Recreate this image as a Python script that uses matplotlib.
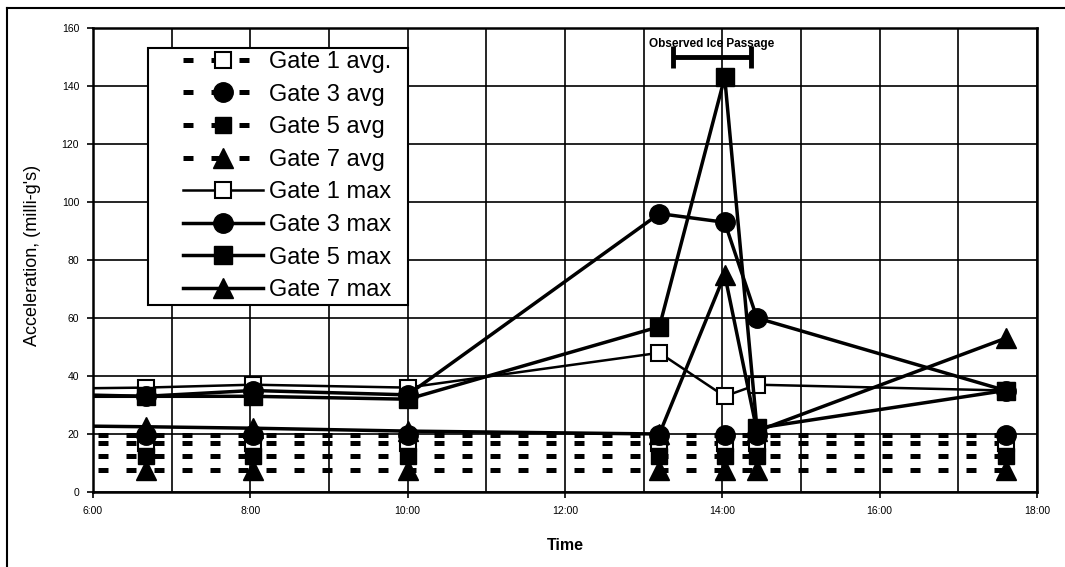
import numpy as np
import matplotlib
matplotlib.use('Agg')
import matplotlib.pyplot as plt # For graphing
from matplotlib.ticker import MultipleLocator, FuncFormatter
from matplotlib.lines import Line2D
from matplotlib.patches import Rectangle

plt.rcParams['font.family'] = ['Liberation Sans', 'DejaVu Sans']

# DATA
# Reading times in hours (first reading is before 6:00, so it sits off the chart)
times = [5.0, 6.67, 8.03, 10.0, 13.2, 14.03, 14.44, 17.6]

# Average accelerations (milli-g's)
gate1_avg = [17, 17, 17, 17, 17, 17, 17, 17]
gate3_avg = [19.5, 19.5, 19.5, 19.5, 19.5, 19.5, 19.5, 19.5]
gate5_avg = [12.5, 12.5, 12.5, 12.5, 12.5, 12.5, 12.5, 12.5]
gate7_avg = [7.5, 7.5, 7.5, 7.5, 7.5, 7.5, 7.5, 7.5]

# Max accelerations (milli-g's)
gate1_max = [35.5, 36, 37, 36, 48, 33, 37, 35]
gate3_max = [34, 33, 35, 33.5, 96, 93, 60, 35]
gate5_max = [33, 33, 33, 32, 57, 143, 22, 35]
gate7_max = [23, 22.5, 22, 21, 20, 75, 21, 53]

# Observed ice passage window
ice_start = 13.37
ice_end = 14.37
ice_level = 150

# FIGURE
fig = plt.figure(figsize=(10.65, 5.67), dpi=100)
ax = fig.add_axes([93/1065, 1 - 492/567, 944/1065, 464/567])

# Average series: thick dashes
dash_style = dict(color='black', lw=3.6, dashes=(2, 3.6), markeredgecolor='black')
ax.plot(times, gate1_avg, marker='s', ms=12, mfc='white', mew=1.5, label='Gate 1 avg.', **dash_style)
ax.plot(times, gate3_avg, marker='o', ms=14, mfc='black', label='Gate 3 avg', **dash_style)
ax.plot(times, gate5_avg, marker='s', ms=12, mfc='black', label='Gate 5 avg', **dash_style)
ax.plot(times, gate7_avg, marker='^', ms=14, mfc='black', label='Gate 7 avg', **dash_style)

# Max series: solid lines
ax.plot(times, gate1_max, color='black', lw=1.8, marker='s', ms=12, mfc='white', mec='black', mew=1.5, label='Gate 1 max')
ax.plot(times, gate3_max, color='black', lw=2.5, marker='o', ms=14, mfc='black', mec='black', label='Gate 3 max')
ax.plot(times, gate5_max, color='black', lw=2.5, marker='s', ms=13, mfc='black', mec='black', label='Gate 5 max')
ax.plot(times, gate7_max, color='black', lw=2.5, marker='^', ms=14, mfc='black', mec='black', label='Gate 7 max')

# Ice passage bar
ax.errorbar([(ice_start + ice_end) / 2], [ice_level], xerr=[(ice_end - ice_start) / 2],
            fmt='none', ecolor='black', elinewidth=3.5, capsize=8, capthick=3.5)
ax.text((ice_start + ice_end) / 2, ice_level + 4.5, 'Observed Ice Passage', ha='center', va='center',
        fontsize=8.5, fontweight='bold')

# Axes setup
ax.set_xlim(6, 18)
ax.set_ylim(0, 160)
ax.xaxis.set_major_locator(MultipleLocator(2))
ax.xaxis.set_minor_locator(MultipleLocator(1))
ax.yaxis.set_major_locator(MultipleLocator(20))
ax.xaxis.set_major_formatter(FuncFormatter(lambda v, p: '%d:00' % v))
ax.grid(True, which='both', color='black', lw=1.2)
ax.set_axisbelow(True)
ax.tick_params(axis='both', which='major', labelsize=7.5, length=4, width=1.2, pad=6)
ax.tick_params(axis='x', which='minor', length=0)
for s in ax.spines.values():
  s.set_linewidth(1.8)

ax.set_ylabel("Acceleration, (milli-g's)", fontsize=13)
ax.yaxis.set_label_coords(-0.055, 0.51)
ax.set_xlabel('Time', fontsize=11.5, fontweight='bold')
ax.xaxis.set_label_coords(0.5, -0.099)

# Legend box drawn by hand (wide left margin like the original)
box = Rectangle((148/1065, 1 - 305/567), 260/1065, 257/567, transform=fig.transFigure,
                facecolor='white', edgecolor='black', lw=1.5, zorder=4.9, clip_on=False)
ax.add_patch(box)
leg = ax.legend(loc='upper left', bbox_to_anchor=(183/1065, 1 - 51/567), bbox_transform=fig.transFigure,
                fontsize=17, frameon=False, handlelength=3.4, handletextpad=0.26,
                labelspacing=0.45, borderaxespad=0, borderpad=0)
leg.set_zorder(5)

# Page border (left and top only)
fig.add_artist(Line2D([7/1065, 7/1065], [0, 1 - 8/567], color='black', lw=1.5))
fig.add_artist(Line2D([7/1065, 1], [1 - 8/567, 1 - 8/567], color='black', lw=1.5))

plt.savefig('out.png', dpi=100)
